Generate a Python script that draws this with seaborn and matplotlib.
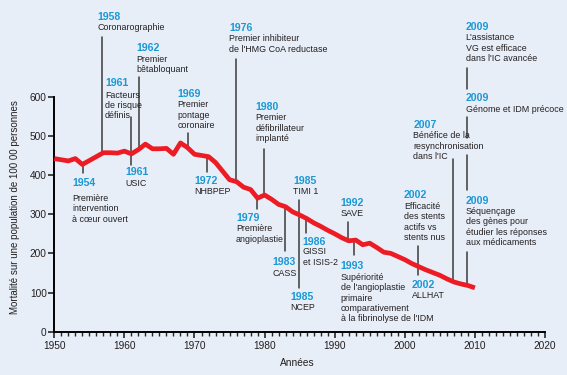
import numpy as np
import pandas as pd
import matplotlib
matplotlib.use("Agg")
import matplotlib.pyplot as plt
import seaborn as sns

# ---- data ----
years = list(range(1950, 2011))
mortality = [442, 439, 436, 442, 427, 437, 447, 457, 457, 456,
             461, 454, 465, 479, 467, 467, 468, 453, 482, 470,
             453, 450, 447, 432, 410, 388, 383, 369, 363, 341,
             349, 338, 325, 319, 306, 298, 289, 278, 269, 259,
             250, 240, 232, 234, 222, 226, 215, 203, 200, 192,
             184, 174, 166, 158, 151, 144, 135, 127, 122, 118, 112]
xticks = [1950, 1960, 1970, 1980, 1990, 2000, 2010, 2020]
yticks = [0, 100, 200, 300, 400, 500, 600]

event_years = ["1958", "1961", "1962", "1961", "1954", "1969", "1972", "1976",
               "1980", "1979", "1983", "1985", "1985", "1986", "1992", "1993",
               "2002", "2002", "2007", "2009", "2009", "2009"]
event_texts = [
    ["Coronarographie"],
    ["Facteurs", "de risque", "définis"],
    ["Premier", "bêtabloquant"],
    ["USIC"],
    ["Première", "intervention", "à cœur ouvert"],
    ["Premier", "pontage", "coronaire"],
    ["NHBPEP"],
    ["Premier inhibiteur", "de l'HMG CoA reductase"],
    ["Premier", "défibrillateur", "implanté"],
    ["Première", "angioplastie"],
    ["CASS"],
    ["TIMI 1"],
    ["NCEP"],
    ["GISSI", "et ISIS-2"],
    ["SAVE"],
    ["Supériorité", "de l'angioplastie", "primaire", "comparativement",
     "à la fibrinolyse de l'IDM"],
    ["Efficacité", "des stents", "actifs vs", "stents nus"],
    ["ALLHAT"],
    ["Bénéfice de la", "resynchronisation", "dans l'IC"],
    ["L'assistance", "VG est efficace", "dans l'IC avancée"],
    ["Génome et IDM précoce"],
    ["Séquençage", "des gènes pour", "étudier les réponses", "aux médicaments"],
]

# ---- layout (reference pixel positions for labels and leader lines) ----
W, H = 567, 375
X0, X1 = 54.3, 545.0
Y0, Y1 = 331.7, 96.7

def dx(px):
    return 1950 + (px - X0) / (X1 - X0) * 70

def dy(py):
    return (Y0 - py) / (Y0 - Y1) * 600

# label x px, year y px, first body line y px, leader x px, leader segments
layout = [
    (97.0, 16.7, 27.5, 102.3, [(36.7, 'c')]),
    (105.0, 83.3, 95.0, 131.0, [(117.0, 'c')]),
    (136.7, 48.3, 59.0, 138.7, [(77.0, 'c')]),
    (125.0, 171.7, 183.0, 131.0, [('c', 165.0)]),
    (72.3, 182.7, 198.3, 82.7, [('c', 173.0)]),
    (177.3, 94.3, 105.0, 187.7, [(133.0, 'c')]),
    (194.3, 181.0, 191.7, 207.3, [('c', 171.7)]),
    (229.0, 28.0, 39.0, 236.0, [(59.3, 'c')]),
    (255.7, 107.3, 118.0, 264.3, [(149.0, 'c')]),
    (236.0, 217.7, 229.0, 257.3, [('c', 209.3)]),
    (272.7, 261.7, 273.0, 285.0, [('c', 251.0)]),
    (293.3, 181.0, 191.7, 299.0, [(200.0, 288.3)]),
    (290.0, 297.3, 307.7, None, []),
    (302.7, 241.7, 252.0, 306.0, [('c', 233.3)]),
    (340.7, 203.3, 214.0, 348.3, [(221.7, 'c')]),
    (340.7, 265.7, 277.3, 354.0, [('c', 255.0)]),
    (404.0, 195.0, 206.5, 417.7, [(245.7, 275.0)]),
    (411.7, 285.0, 295.7, None, []),
    (413.3, 125.0, 135.7, 452.7, [(159.3, 'c')]),
    (465.7, 27.3, 38.0, 467.5, [(68.3, 89.3), (117.3, 138.3), (155.0, 190.0), (251.7, 'c')]),
    (465.7, 98.3, 109.3, None, []),
    (465.7, 200.7, 211.3, None, []),
]

BG = "#e8eef8"
RED = "#ed1c24"
BLUE = "#1a98d5"
TXT = "#231f20"

sns.set_style("ticks")
plt.rcParams['font.family'] = ['Liberation Sans Narrow', 'Liberation Sans', 'DejaVu Sans']

fig = plt.figure(figsize=(W / 100, H / 100), dpi=100, facecolor=BG)
ax = fig.add_axes([X0 / W, 1 - Y0 / H, (X1 - X0) / W, (Y0 - Y1) / H])
ax.set_facecolor(BG)

df = pd.DataFrame({"Année": years, "Mortalité": mortality})
sns.lineplot(data=df, x="Année", y="Mortalité", ax=ax, color=RED, linewidth=3.4,
             solid_capstyle="butt", zorder=3)

ax.set_xlim(1950, 2020)
ax.set_ylim(0, 600)
ax.set_xticks(xticks)
ax.set_xticks(range(1950, 2021), minor=True)
ax.set_yticks(yticks)
ax.set_xlabel("")
ax.set_ylabel("")
for s in ["top", "right"]:
    ax.spines[s].set_visible(False)
for s in ["left", "bottom"]:
    ax.spines[s].set_linewidth(1.4)
    ax.spines[s].set_color("black")
ax.tick_params(axis="x", which="major", length=4.5, width=1.2, direction="out",
               labelsize=7.3, labelcolor=TXT, pad=2.5)
ax.tick_params(axis="x", which="minor", length=3, width=1.0, direction="out")
ax.tick_params(axis="y", which="major", length=4.5, width=1.2, direction="out",
               labelsize=7.3, labelcolor=TXT, pad=1)

fig.text(15 / W, 1 - 207.5 / H, "Mortalité sur une population de 100 00 personnes",
         rotation=90, ha="center", va="center", fontsize=7, color=TXT)
fig.text(297 / W, 1 - 363.3 / H, "Années", ha="center", va="center",
         fontsize=7.3, color=TXT)

LS = 10.4
for yr, body, (lx, yy, by, lnx, segs) in zip(event_years, event_texts, layout):
    ax.text(dx(lx), dy(yy), yr, color=BLUE, fontsize=7.6, fontweight="bold",
            ha="left", va="center", clip_on=False)
    for i, line in enumerate(body):
        ax.text(dx(lx), dy(by + i * LS), line, color=TXT, fontsize=6.4,
                ha="left", va="center", clip_on=False)
    if lnx is not None:
        xv = dx(lnx)
        cv = float(np.interp(xv, years, mortality))
        for a, b in segs:
            ya = cv if a == 'c' else dy(a)
            yb = cv if b == 'c' else dy(b)
            ax.plot([xv, xv], [ya, yb], color="#3a3a3a", lw=1.1, clip_on=False,
                    zorder=2)

fig.savefig("out.png", dpi=100, facecolor=BG)
